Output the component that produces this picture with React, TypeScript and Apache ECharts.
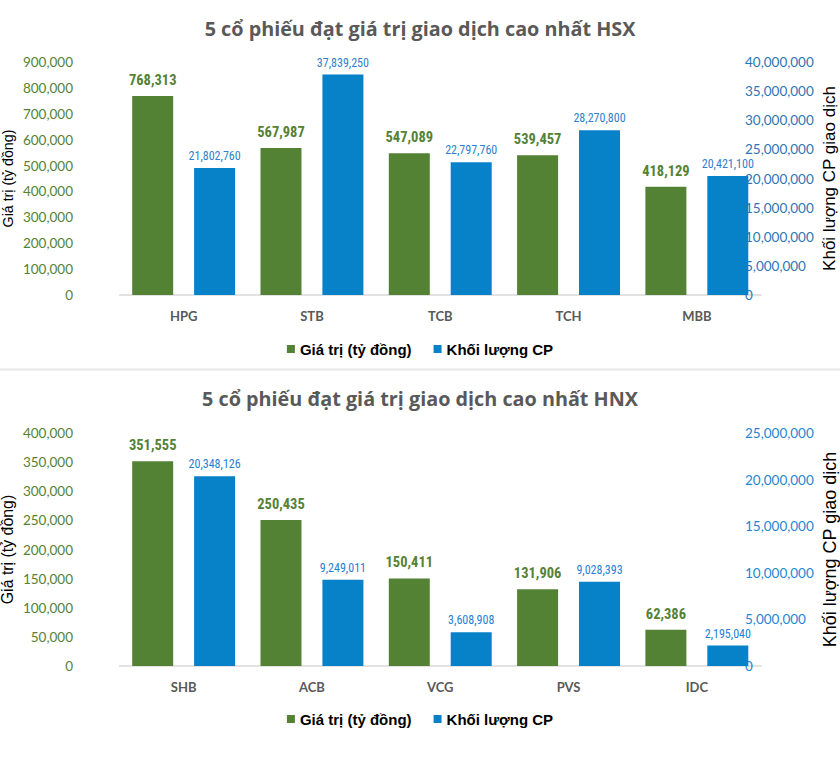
import React, { useEffect, useRef } from "react";
import * as echarts from "echarts";

const hsxCategories = ["HPG", "STB", "TCB", "TCH", "MBB"];
const hsxValue = [768313, 567987, 547089, 539457, 418129];
const hsxVolume = [21802760, 37839250, 22797760, 28270800, 20421100];

const hnxCategories = ["SHB", "ACB", "VCG", "PVS", "IDC"];
const hnxValue = [351555, 250435, 150411, 131906, 62386];
const hnxVolume = [20348126, 9249011, 3608908, 9028393, 2195040];

const seriesNames = ["Giá trị (tỷ đồng)", "Khối lượng CP"];
const titles = [
  "5 cổ phiếu đạt giá trị giao dịch cao nhất HSX",
  "5 cổ phiếu đạt giá trị giao dịch cao nhất HNX",
];
const leftAxisName = "Giá trị (tỷ đồng)";
const rightAxisName = "Khối lượng CP giao dịch";

const GREEN = "#548235";
const BLUE = "#0782C8";
const NARROW = "'Liberation Sans Narrow', 'Arial Narrow', 'Roboto Condensed', Roboto, sans-serif";
const CAL = "Lato, 'Open Sans', sans-serif";
const TITLEFONT = "'Open Sans', Lato, sans-serif";
const ARIAL = "'Liberation Sans', Arial, sans-serif";

const fmt = (v: number) => Number(v).toLocaleString("en-US");

export default function App() {
  const ref = useRef<HTMLDivElement>(null);
  useEffect(() => {
    if (!ref.current) return;
    const chart = echarts.init(ref.current, null, { renderer: "svg" });

    const gridLeft = 119.5;
    const gridWidth = 641.5;
    const tops = [62, 433];
    const plotH = 233;

    const mkTitle = (text: string, top: number) => ({
      text,
      left: "center",
      top,
      padding: 0,
      textStyle: {
        fontFamily: TITLEFONT,
        fontWeight: "bold",
        fontSize: 19.8,
        lineHeight: 24,
        color: "#595959",
      },
    });

    const mkLegend = (top: number) => ({
      data: seriesNames,
      top,
      left: "center",
      padding: 0,
      icon: "rect",
      itemWidth: 8,
      itemHeight: 8,
      itemGap: 22,
      textStyle: {
        fontFamily: ARIAL,
        fontWeight: "bold",
        fontSize: 15,
        lineHeight: 18,
        color: "#000",
      },
    });

    const mkX = (data: string[], gridIndex: number) => ({
      type: "category",
      gridIndex,
      data,
      axisLine: { lineStyle: { color: "#d9d9d9", width: 1.5 } },
      axisTick: { show: false },
      axisLabel: {
        margin: 14,
        fontFamily: CAL,
        fontWeight: "bold",
        fontSize: 13,
        color: "#595959",
      },
    });

    const mkYLeft = (gridIndex: number, max: number, interval: number, nameSize: number, gap: number) => ({
      type: "value",
      gridIndex,
      position: "left",
      min: 0,
      max,
      interval,
      name: leftAxisName,
      nameLocation: "middle",
      nameRotate: 90,
      nameGap: gap,
      nameMoveOverlap: false,
      nameTextStyle: { fontFamily: ARIAL, fontSize: nameSize, color: "#000" },
      splitLine: { show: false },
      axisLine: { show: false },
      axisTick: { show: false },
      axisLabel: {
        margin: 46.5,
        formatter: fmt,
        fontFamily: CAL,
        fontSize: 13.5,
        color: GREEN,
      },
    });

    const mkYRight = (
      gridIndex: number,
      max: number,
      interval: number,
      nameSize: number,
      gap: number,
      color: string
    ) => ({
      type: "value",
      gridIndex,
      position: "right",
      min: 0,
      max,
      interval,
      name: rightAxisName,
      nameLocation: "middle",
      nameRotate: 90,
      nameGap: gap,
      nameMoveOverlap: false,
      nameTextStyle: { fontFamily: ARIAL, fontSize: nameSize, color: "#000" },
      splitLine: { show: false },
      axisLine: { show: false },
      axisTick: { show: false },
      axisLabel: {
        margin: -16,
        formatter: fmt,
        fontFamily: CAL,
        fontSize: 13.5,
        color,
      },
    });

    const mkBar = (
      name: string,
      data: number[],
      xAxisIndex: number,
      yAxisIndex: number,
      color: string,
      labelColor: string,
      bold: boolean
    ) => ({
      type: "bar",
      name,
      data,
      xAxisIndex,
      yAxisIndex,
      barWidth: 41,
      barGap: "51%",
      itemStyle: { color },
      label: {
        show: true,
        position: "top",
        distance: bold ? 8 : 6,
        formatter: (p: any) => fmt(p.value),
        fontFamily: NARROW,
        fontWeight: bold ? "bold" : "normal",
        fontSize: bold ? 14.5 : 12,
        color: labelColor,
      },
    });

    const option: any = {
      animation: false,
      backgroundColor: "#ffffff",
      title: [mkTitle(titles[0], 16), mkTitle(titles[1], 386)],
      legend: [mkLegend(340), mkLegend(710)],
      grid: tops.map((t) => ({
        left: gridLeft,
        top: t,
        width: gridWidth,
        height: plotH,
        containLabel: false,
        outerBoundsMode: "none",
      })),
      xAxis: [mkX(hsxCategories, 0), mkX(hnxCategories, 1)],
      yAxis: [
        mkYLeft(0, 900000, 100000, 14.2, 105),
        mkYRight(0, 40000000, 5000000, 17, 60, "#2E75B6"),
        mkYLeft(1, 400000, 50000, 15.9, 104),
        mkYRight(1, 25000000, 5000000, 18, 60, "#1E86D2"),
      ],
      series: [
        mkBar(seriesNames[0], hsxValue, 0, 0, GREEN, GREEN, true),
        mkBar(seriesNames[1], hsxVolume, 0, 1, BLUE, "#2E7FCC", false),
        mkBar(seriesNames[0], hnxValue, 1, 2, GREEN, GREEN, true),
        mkBar(seriesNames[1], hnxVolume, 1, 3, BLUE, "#1E80D4", false),
      ],
      graphic: [
        {
          type: "rect",
          shape: { x: 0, y: 368.5, width: 840, height: 2 },
          style: { fill: "#e6e6e6" },
          silent: true,
        },
      ],
    };

    chart.setOption(option);
    return () => chart.dispose();
  }, []);

  return (
    <div
      ref={ref}
      style={{ position: "fixed", left: 0, top: 0, width: 840, height: 766, background: "#fff" }}
    />
  );
}
